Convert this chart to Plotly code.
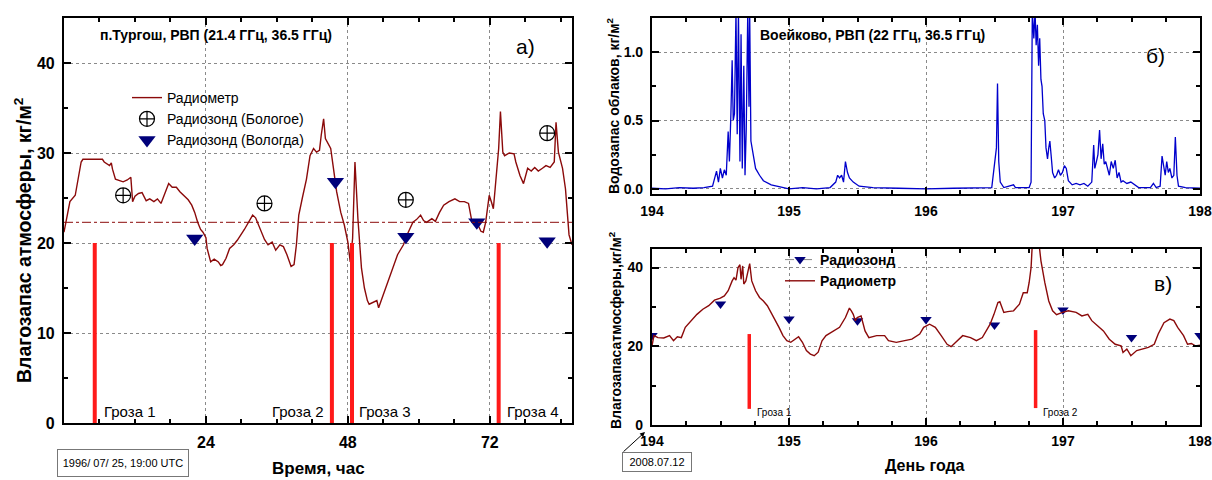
import plotly.graph_objects as go

# ---------------- Panel a) : п.Тургош ----------------
hours_a = [0.0, 0.4, 1.0, 1.9, 2.6, 2.9, 3.2, 4.5, 5.5, 6.5, 6.8, 7.3, 7.7, 8.0, 8.2, 8.7, 9.3, 10.0, 10.7,
           11.3, 11.6, 12.0, 12.6, 13.2, 13.9, 14.5, 15.2, 15.8, 16.4, 17.0, 17.7, 18.3, 19.0, 19.6, 20.3,
           21.0, 21.6, 22.1, 22.6, 23.1, 23.5, 24.0, 24.2, 24.8, 25.4, 26.1, 26.5, 26.8, 27.4, 28.0, 28.7,
           29.3, 30.5, 31.9, 32.4, 32.9, 33.4, 33.9, 34.5, 35.2, 35.8, 36.5, 37.1, 37.7, 38.4, 38.9, 39.3,
           39.7, 40.3, 41.0, 41.6, 42.2, 42.7, 43.2, 43.5, 43.9, 44.2, 44.5, 45.1, 45.5, 46.1, 46.8, 47.4,
           48.0, 48.4, 48.8, 49.2, 49.7, 50.3, 50.8, 51.3, 51.6, 52.2, 52.9, 53.2, 53.8, 54.4, 55.1, 55.8,
           56.4, 57.4, 58.0, 59.0, 59.6, 60.3, 60.8, 61.3, 62.2, 62.8, 63.5, 64.2, 65.1, 66.1, 66.9, 67.7,
           68.4, 69.0, 70.0, 70.5, 70.9, 71.3, 71.9, 72.3, 72.6, 72.9, 73.2, 73.5, 73.8, 74.2, 74.5, 75.3,
           76.1, 76.4, 77.1, 77.7, 78.4, 79.0, 79.6, 80.2, 80.9, 81.5, 82.2, 82.9, 83.2, 83.6, 84.3, 84.8,
           85.4, 85.9]
radiometer_a = [21.2, 22.5, 24.6, 25.3, 27.9, 29.0, 29.3, 29.3, 29.35, 29.3, 29.0, 28.8, 28.6, 28.9, 28.2,
                27.1, 27.0, 26.8, 27.0, 27.3, 24.6, 25.2, 25.5, 25.6, 24.7, 24.9, 24.6, 24.9, 24.4, 25.5,
                26.6, 26.2, 26.2, 25.7, 25.3, 24.8, 24.2, 23.4, 22.3, 21.5, 21.2, 20.6, 19.4, 17.9, 18.2,
                17.9, 17.5, 17.6, 18.3, 19.4, 19.8, 20.3, 21.5, 23.1, 22.8, 22.0, 21.2, 20.4, 19.8, 20.1,
                19.2, 19.8, 19.6, 18.7, 17.4, 17.6, 19.8, 23.1, 25.0, 27.1, 29.7, 30.5, 30.1, 30.3, 32.0,
                33.8, 31.6, 31.2, 30.5, 28.6, 25.7, 23.4, 22.0, 20.1, 17.9, 20.5, 29.0, 22.7, 17.2, 15.0,
                13.6, 13.2, 13.4, 13.6, 12.8, 13.9, 15.0, 16.1, 17.5, 18.7, 19.8, 20.9, 22.3, 22.6, 23.1,
                22.5, 22.3, 22.7, 22.4, 23.4, 24.2, 24.6, 24.9, 24.6, 24.6, 24.4, 22.3, 22.0, 21.3, 21.2,
                22.3, 25.3, 24.5, 23.8, 26.0, 28.0, 30.5, 34.6, 30.1, 29.7, 30.0, 29.9, 29.0, 27.5, 26.6,
                28.3, 28.0, 28.4, 28.0, 28.3, 28.6, 28.4, 29.0, 33.4, 30.1, 28.3, 26.0, 20.9, 19.8]
bologoe_hours = [10.0, 33.9, 57.8, 81.7]
bologoe_values = [25.3, 24.4, 24.8, 32.2]
vologda_hours = [22.1, 45.9, 57.8, 69.8, 81.7]
vologda_values = [20.5, 26.8, 20.7, 22.3, 20.2]
mean_level_a = 22.3
storm_hours_a = [5.2, 45.3, 48.7, 73.5]
storm_top_a = 20
storm_labels_a = ["Гроза 1", "Гроза 2", "Гроза 3", "Гроза 4"]
x_ticks_a = [24, 48, 72]
x_minor_a = [6, 12, 18, 30, 36, 42, 54, 60, 66, 78, 84]

# ---------------- Panel б) : Воейково, водозапас облаков ----------------
days_b = [194.0, 194.1, 194.2, 194.3, 194.38, 194.42, 194.442, 194.471, 194.485, 194.499, 194.514, 194.528,
          194.542, 194.556, 194.565, 194.576, 194.585, 194.593, 194.602, 194.613, 194.622, 194.631, 194.642,
          194.650, 194.659, 194.670, 194.679, 194.688, 194.699, 194.708, 194.713, 194.722, 194.733, 194.756,
          194.785, 194.813, 194.870, 194.956, 195.0, 195.1, 195.2, 195.3, 195.341, 195.355, 195.369, 195.384,
          195.398, 195.412, 195.427, 195.441, 195.469, 195.512, 195.612, 195.8, 196.0, 196.2, 196.4, 196.48,
          196.514, 196.522, 196.531, 196.542, 196.568, 196.639, 196.653, 196.753, 196.767, 196.776, 196.787,
          196.796, 196.804, 196.813, 196.822, 196.830, 196.839, 196.847, 196.856, 196.867, 196.876, 196.887,
          196.896, 196.904, 196.913, 196.924, 196.939, 196.953, 196.967, 196.981, 196.996, 197.010, 197.024,
          197.039, 197.067, 197.096, 197.124, 197.153, 197.181, 197.210, 197.224, 197.232, 197.244, 197.255,
          197.267, 197.278, 197.290, 197.301, 197.312, 197.324, 197.338, 197.352, 197.367, 197.381, 197.395,
          197.409, 197.424, 197.438, 197.466, 197.495, 197.524, 197.552, 197.638, 197.660, 197.680, 197.709,
          197.723, 197.735, 197.746, 197.757, 197.769, 197.780, 197.795, 197.809, 197.820, 197.832, 197.843,
          197.894, 198.0]
cloud_water_b = [0.005, 0.0, 0.01, 0.005, 0.01, 0.02, 0.02, 0.13, 0.05, 0.15, 0.08, 0.14,
                 0.1, 0.42, 0.2, 0.55, 0.94, 0.5, 0.55, 1.3, 0.4, 1.3, 0.2,
                 1.13, 0.15, 0.9, 0.1, 0.44, 1.3, 0.6, 1.3, 0.35, 0.28, 0.15,
                 0.1, 0.06, 0.03, 0.01, 0.0, 0.01, 0.0, 0.01, 0.05, 0.1, 0.08, 0.1,
                 0.05, 0.2, 0.12, 0.08, 0.05, 0.02, 0.01, 0.005, 0.0, 0.005, 0.01, 0.01,
                 0.3, 0.77, 0.2, 0.05, 0.01, 0.03, 0.01, 0.01, 0.05, 1.3, 1.1,
                 1.3, 1.05, 1.2, 0.9, 1.1, 0.8, 0.75, 0.55, 0.5, 0.3, 0.22,
                 0.3, 0.35, 0.25, 0.12, 0.08, 0.1, 0.14, 0.1, 0.12, 0.17, 0.15,
                 0.06, 0.03, 0.04, 0.03, 0.04, 0.02, 0.05, 0.32, 0.15, 0.2, 0.25,
                 0.43, 0.22, 0.33, 0.18, 0.2, 0.15, 0.1, 0.2, 0.15, 0.21, 0.08,
                 0.12, 0.05, 0.06, 0.04, 0.05, 0.03, 0.01, 0.01, 0.04, 0.01, 0.02,
                 0.24, 0.15, 0.1, 0.2, 0.12, 0.15, 0.08, 0.1, 0.38, 0.1, 0.02,
                 0.01, 0.005]

# ---------------- Panel в) : Воейково, влагозапас ----------------
days_v = [194.000, 194.014, 194.043, 194.086, 194.128, 194.157, 194.185, 194.214, 194.243, 194.285, 194.328,
          194.371, 194.414, 194.456, 194.499, 194.528, 194.556, 194.585, 194.599, 194.613, 194.628, 194.642,
          194.650, 194.662, 194.670, 194.685, 194.699, 194.713, 194.728, 194.756, 194.785, 194.813, 194.842,
          194.870, 194.899, 194.927, 194.956, 194.984, 195.013, 195.041, 195.070, 195.098, 195.127, 195.156,
          195.184, 195.213, 195.241, 195.270, 195.327, 195.369, 195.412, 195.441, 195.455, 195.469, 195.484,
          195.498, 195.526, 195.555, 195.583, 195.640, 195.698, 195.726, 195.783, 195.840, 195.897, 195.954,
          195.983, 196.026, 196.068, 196.111, 196.154, 196.183, 196.225, 196.268, 196.325, 196.368, 196.411,
          196.439, 196.468, 196.496, 196.525, 196.539, 196.568, 196.596, 196.639, 196.682, 196.710, 196.739,
          196.753, 196.767, 196.776, 196.825, 196.839, 196.867, 196.896, 196.924, 196.953, 196.996, 197.039,
          197.096, 197.138, 197.181, 197.210, 197.252, 197.295, 197.338, 197.381, 197.424, 197.438, 197.466,
          197.495, 197.538, 197.581, 197.623, 197.666, 197.695, 197.737, 197.780, 197.809, 197.837, 197.880,
          197.909, 197.937, 197.966, 198.000]
radiometer_v = [20.1, 22.7, 22.2, 22.1, 22.7, 21.4, 22.4, 22.2, 24.8, 26.5, 28.1,
                29.4, 30.3, 31.7, 32.2, 32.8, 34.1, 36.6, 37.4, 36.8, 40.0, 40.7,
                37.0, 40.4, 35.8, 36.6, 39.1, 41.0, 36.6, 34.1, 32.4, 31.5, 30.3,
                28.6, 26.5, 24.8, 22.7, 21.4, 21.0, 21.8, 22.4, 21.0, 18.9, 18.0,
                17.6, 18.5, 21.4, 22.7, 23.9, 24.8, 27.3, 29.7, 29.0, 28.1, 26.5,
                27.3, 27.7, 23.9, 22.2, 22.7, 22.7, 21.4, 21.0, 21.4, 21.8, 23.1,
                24.8, 25.6, 24.8, 22.7, 20.5, 19.9, 21.4, 22.7, 22.2, 21.4, 22.2,
                23.9, 25.6, 28.1, 31.1, 31.3, 28.6, 28.8, 29.0, 30.7, 33.6, 33.6,
                36.2, 40.0, 46.0, 46.0, 41.7, 36.2, 31.5, 29.0, 28.0, 28.6, 29.0,
                28.6, 27.7, 28.1, 26.5, 25.2, 23.9, 21.8, 20.5, 20.1, 18.4, 19.3,
                17.6, 18.9, 19.3, 19.7, 20.5, 23.1, 26.0, 26.9, 26.5, 24.8, 22.7,
                20.5, 20.7, 20.1, 20.3]
sonde_days_v = [194.0, 194.5, 195.0, 195.5, 196.0, 196.5, 197.0, 197.5, 198.0]
sonde_values_v = [22.7, 30.7, 26.9, 26.5, 26.8, 25.4, 29.2, 22.2, 22.7]
storm_days_v = [194.71, 196.80]
storm_bottom_v = [4.1, 4.3]
storm_top_v = [23.1, 24.1]
storm_labels_v = ["Гроза 1", "Гроза 2"]
day_ticks = [194, 195, 196, 197, 198]

# ---------------- styles ----------------
W, H = 1212, 480
FONT = "Liberation Sans, Arial, sans-serif"
RED_DARK = "#8b0a0a"
NAVY = "#00007a"
BLUE = "#0000cc"
STORM = "#ff1a1a"


def px(x):
    return x / W


def py(y):
    return 1 - y / H


fig = go.Figure()

# Panel a
fig.add_trace(go.Scatter(x=hours_a, y=radiometer_a, mode="lines", name="Радиометр",
                         line=dict(color=RED_DARK, width=1.4), xaxis="x", yaxis="y", legend="legend"))
fig.add_trace(go.Scatter(x=bologoe_hours, y=bologoe_values, mode="markers", name="Радиозонд (Бологое)",
                         marker=dict(symbol="circle-cross-open", size=15, color="black", line=dict(width=1.2)),
                         xaxis="x", yaxis="y", legend="legend"))
fig.add_trace(go.Scatter(x=vologda_hours, y=vologda_values, mode="markers", name="Радиозонд (Вологда)",
                         marker=dict(symbol="triangle-down", size=15, color=NAVY),
                         xaxis="x", yaxis="y", legend="legend"))
fig.add_trace(go.Scatter(x=[0, 85.9], y=[mean_level_a, mean_level_a], mode="lines", showlegend=False,
                         line=dict(color=RED_DARK, width=1, dash="dashdot"), xaxis="x", yaxis="y"))
for h in storm_hours_a:
    fig.add_trace(go.Scatter(x=[h, h], y=[0, storm_top_a], mode="lines", showlegend=False,
                             line=dict(color=STORM, width=4), xaxis="x", yaxis="y"))

# Panel б
fig.add_trace(go.Scatter(x=days_b, y=cloud_water_b, mode="lines", showlegend=False,
                         line=dict(color=BLUE, width=1.3), xaxis="x2", yaxis="y2"))

# Panel в
fig.add_trace(go.Scatter(x=sonde_days_v, y=sonde_values_v, mode="markers", showlegend=False,
                         marker=dict(symbol="triangle-down", size=10, color=NAVY),
                         xaxis="x3", yaxis="y3"))
fig.add_trace(go.Scatter(x=[None], y=[None], mode="lines+markers", name="Радиозонд",
                         line=dict(color="#888888", width=1, dash="dash"),
                         marker=dict(symbol="triangle-down", size=10, color=NAVY),
                         xaxis="x3", yaxis="y3", legend="legend2"))
fig.add_trace(go.Scatter(x=days_v, y=radiometer_v, mode="lines", name="Радиометр",
                         line=dict(color=RED_DARK, width=1.4), xaxis="x3", yaxis="y3", legend="legend2"))
for d, b, t in zip(storm_days_v, storm_bottom_v, storm_top_v):
    fig.add_trace(go.Scatter(x=[d, d], y=[b, t], mode="lines", showlegend=False,
                             line=dict(color=STORM, width=3.5), xaxis="x3", yaxis="y3"))


def axis_style(**kw):
    base = dict(showline=True, linecolor="black", linewidth=2.2, mirror="ticks",
                ticks="inside", ticklen=7, tickwidth=2, tickcolor="black",
                showgrid=True, gridcolor="#8a8a8a", griddash="dot", gridwidth=1,
                zeroline=False, fixedrange=True, automargin=False)
    base.update(kw)
    return base


layout = dict(
    width=W, height=H, margin=dict(l=0, r=0, t=0, b=0), autosize=False,
    paper_bgcolor="white", plot_bgcolor="white",
    font=dict(family=FONT, color="black"),
    xaxis=axis_style(domain=[px(64), px(572)], range=[0, 85.9], anchor="y",
                     tickvals=x_ticks_a, ticktext=[str(v) for v in x_ticks_a],
                     tickfont=dict(size=16, weight="bold"), ticklabelstandoff=4,
                     minor=dict(tickvals=x_minor_a, ticks="inside", ticklen=4, tickwidth=1.5,
                                tickcolor="black", showgrid=False)),
    yaxis=axis_style(domain=[py(423), py(18)], range=[0, 45], anchor="x",
                     tickvals=[0, 10, 20, 30, 40], tickfont=dict(size=16, weight="bold"),
                     ticklabelstandoff=4,
                     minor=dict(dtick=5, tick0=0, ticks="inside", ticklen=4, tickwidth=1.5,
                                tickcolor="black", showgrid=False)),
    xaxis2=axis_style(domain=[px(652), px(1200)], range=[194, 198], anchor="y2",
                      tickvals=day_ticks, tickfont=dict(size=14, weight="bold"), ticklabelstandoff=3,
                      minor=dict(dtick=0.25, tick0=194, ticks="inside", ticklen=4, tickwidth=1.5,
                                 tickcolor="black", showgrid=False)),
    yaxis2=axis_style(domain=[py(194), py(18)], range=[-0.037, 1.249], anchor="x2",
                      tickvals=[0, 0.5, 1.0], ticktext=["0.0", "0.5", "1.0"],
                      tickfont=dict(size=14, weight="bold"), ticklabelstandoff=4,
                      minor=dict(tickvals=[0.25, 0.75], ticks="inside", ticklen=4, tickwidth=1.5,
                                 tickcolor="black", showgrid=False)),
    xaxis3=axis_style(domain=[px(652), px(1200)], range=[194, 198], anchor="y3",
                      tickvals=day_ticks, tickfont=dict(size=14, weight="bold"), ticklabelstandoff=2,
                      minor=dict(dtick=0.25, tick0=194, ticks="inside", ticklen=4, tickwidth=1.5,
                                 tickcolor="black", showgrid=False)),
    yaxis3=axis_style(domain=[py(425), py(249)], range=[0, 44.7], anchor="x3",
                      tickvals=[0, 20, 40], tickfont=dict(size=14, weight="bold"), ticklabelstandoff=4,
                      minor=dict(tickvals=[10, 30], ticks="inside", ticklen=4, tickwidth=1.5,
                                 tickcolor="black", showgrid=False)),
    legend=dict(x=px(127), y=py(82), xanchor="left", yanchor="top", bgcolor="rgba(0,0,0,0)",
                font=dict(family=FONT, size=14), tracegroupgap=0, itemwidth=30),
    legend2=dict(x=px(780), y=py(244), xanchor="left", yanchor="top", bgcolor="rgba(0,0,0,0)",
                 font=dict(family=FONT, size=14, weight="bold"), tracegroupgap=0, itemwidth=30),
    showlegend=True,
)
fig.update_layout(**layout)

ann = []
# Panel a texts
ann.append(dict(text="п.Тургош, РВП (21.4 ГГц, 36.5 ГГц)", x=px(98), y=py(35), xanchor="left",
                font=dict(size=14, weight="bold")))
ann.append(dict(text="а)", x=px(525), y=py(47), font=dict(size=21)))
storm_anchor = ["left", "right", "left", "left"]
storm_offset = [1.3, -1.0, 0.9, 1.0]
for h, lab, anc, off in zip(storm_hours_a, storm_labels_a, storm_anchor, storm_offset):
    ann.append(dict(text=lab, x=h + off, y=1.3, xref="x", yref="y", xanchor=anc,
                    font=dict(size=15)))
ann.append(dict(text="Влагозапас атмосферы, кг/м<sup>2</sup>", x=px(23), y=py(240), textangle=-90,
                font=dict(size=19.5, weight="bold")))
ann.append(dict(text="Время, час", x=px(318), y=py(468), font=dict(size=17, weight="bold")))
ann.append(dict(text="1996/ 07/ 25, 19:00 UTC", x=px(123), y=py(463), font=dict(size=11),
                bordercolor="#777777", borderwidth=1, width=128, height=24, bgcolor="white"))
# Panel б texts
ann.append(dict(text="Воейково, РВП (22 ГГц, 36.5 ГГц)", x=px(758), y=py(35), xanchor="left",
                font=dict(size=14, weight="bold")))
ann.append(dict(text="б)", x=px(1155), y=py(55), font=dict(size=21)))
ann.append(dict(text="Водозапас облаков, кг/м<sup>2</sup>", x=px(613), y=py(106), textangle=-90,
                font=dict(size=14, weight="bold")))
# Panel в texts
ann.append(dict(text="в)", x=px(1163), y=py(283), font=dict(size=21)))
for d, lab in zip(storm_days_v, storm_labels_v):
    ann.append(dict(text=lab, x=d + 0.04, y=3.3, xref="x3", yref="y3", xanchor="left",
                    font=dict(size=10)))
ann.append(dict(text="Влагозапасатмосферы,кг/м<sup>2</sup>", x=px(615), y=py(330), textangle=-90,
                font=dict(size=14, weight="bold")))
ann.append(dict(text="День года", x=px(925), y=py(465), font=dict(size=16, weight="bold")))
ann.append(dict(text="2008.07.12", x=px(657), y=py(462), font=dict(size=11),
                bordercolor="#777777", borderwidth=1, width=66, height=16, bgcolor="white"))

for a in ann:
    a.setdefault("xref", "paper")
    a.setdefault("yref", "paper")
    a.setdefault("showarrow", False)
    a.setdefault("xanchor", "center")
    a.setdefault("yanchor", "middle")
    fig.add_annotation(**a)

fig.add_annotation(text="", x=px(645), y=py(432), xref="paper", yref="paper", showarrow=True,
                   ax=-23, ay=21, arrowhead=2, arrowsize=1, arrowwidth=1, arrowcolor="black")

fig.write_html("out.html", config={"displayModeBar": False},
               post_script="document.body.style.margin='0';document.body.style.overflow='hidden';")
